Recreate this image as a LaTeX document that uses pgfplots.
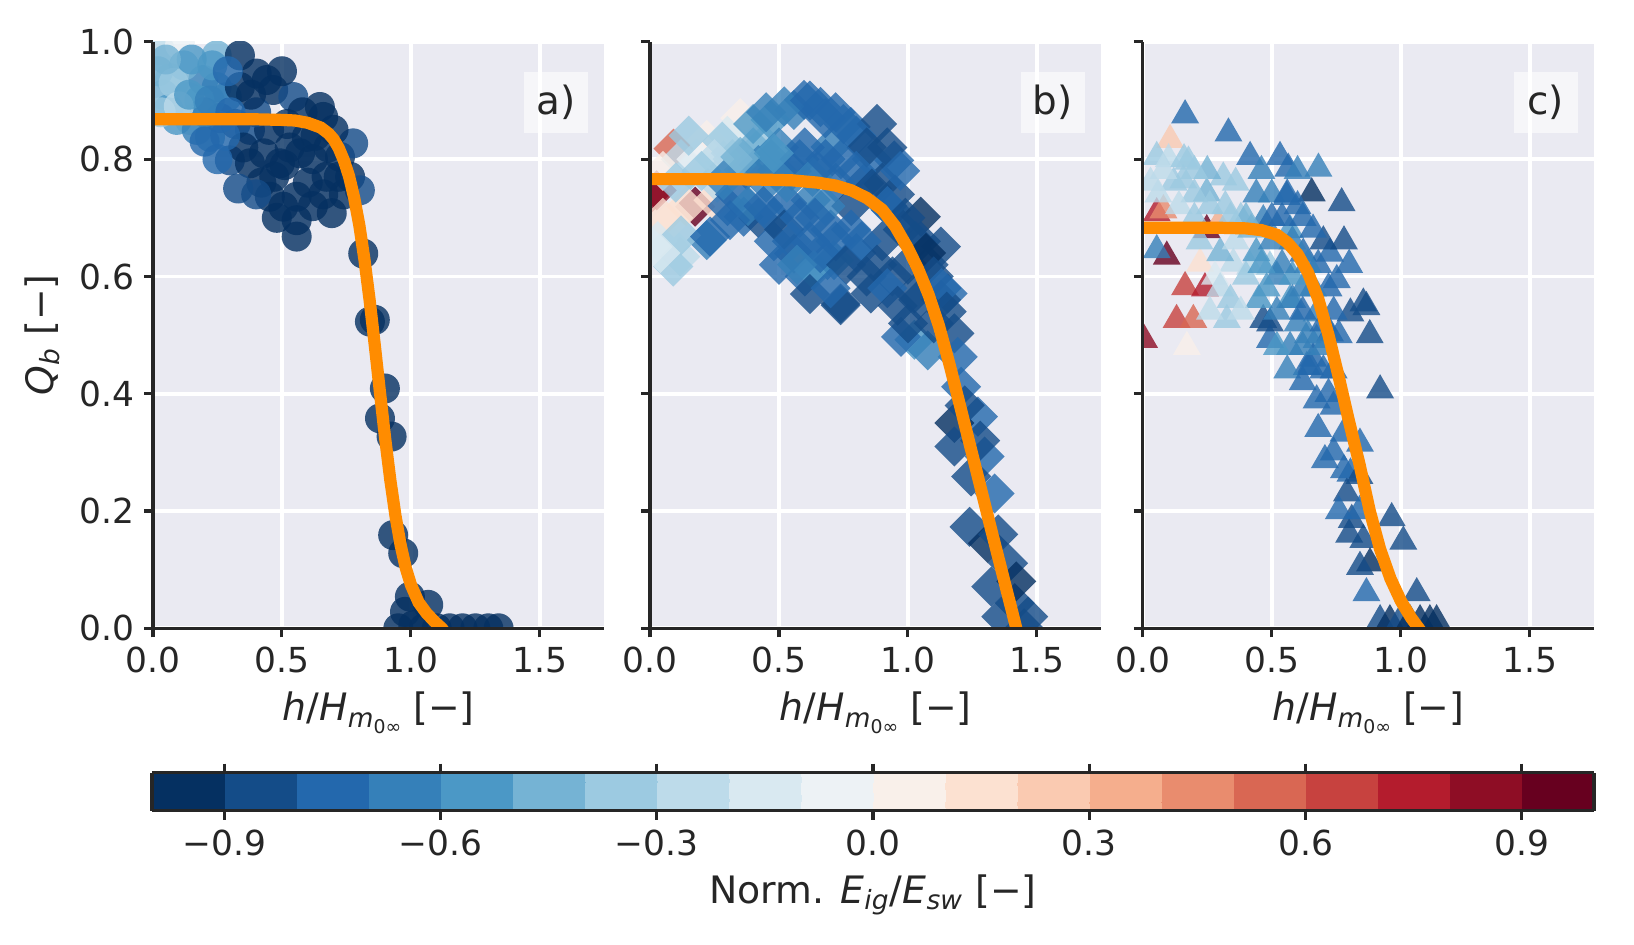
\documentclass[border=0pt]{standalone}
\usepackage{fontspec}
\setmainfont{DejaVu Sans}
\usepackage{pgfplots}
\usepackage{pgfplotstable}
\pgfplotsset{compat=1.18}

\definecolor{bgc}{HTML}{EAEAF2}
\definecolor{inkc}{HTML}{262626}
\definecolor{fitc}{HTML}{FF8C00}

% scatter data: x = h/Hm0, y = Qb, c = normalised Eig/Esw
\pgfplotstableread{
x y c
0.027 0.986 -0.25
0.105 0.995 -0.05
0.066 0.938 -0.35
0.020 0.950 -0.45
0.040 0.910 -0.50
0.137 0.906 -0.35
0.143 0.867 -0.35
0.092 0.867 -0.60
0.060 0.885 -0.55
0.195 0.935 -0.65
0.247 0.977 -0.45
0.247 0.923 -0.65
0.286 0.906 -0.70
0.221 0.838 -0.70
0.170 0.850 -0.65
0.298 0.798 -0.85
0.376 0.850 -0.85
0.337 0.977 -0.95
0.337 0.923 -0.95
0.402 0.946 -0.95
0.441 0.935 -0.95
0.466 0.918 -0.95
0.544 0.906 -0.85
0.596 0.838 -0.95
0.647 0.889 -0.95
0.660 0.872 -0.95
0.725 0.804 -0.95
0.776 0.827 -0.85
0.376 0.793 -0.95
0.492 0.793 -0.95
0.453 0.736 -0.95
0.505 0.719 -0.95
0.557 0.736 -0.95
0.557 0.696 -0.95
0.557 0.668 -0.95
0.673 0.770 -0.95
0.693 0.708 -0.95
0.764 0.770 -0.95
0.802 0.747 -0.85
0.815 0.639 -0.95
0.841 0.523 -0.95
0.860 0.526 -0.95
0.899 0.409 -0.95
0.880 0.358 -0.95
0.925 0.327 -0.95
0.931 0.159 -0.95
0.970 0.128 -0.95
0.996 0.054 -0.95
1.067 0.040 -0.95
0.977 0.028 -0.95
0.951 0.000 -0.95
1.009 0.005 -0.95
1.050 0.000 -0.95
1.100 0.000 -0.95
1.150 0.000 -0.95
1.200 0.000 -0.95
1.250 0.000 -0.95
1.300 0.000 -0.95
1.340 0.000 -0.95
0.620 0.800 -0.95
0.520 0.860 -0.95
0.450 0.850 -0.95
0.400 0.880 -0.85
0.700 0.850 -0.95
0.600 0.760 -0.95
0.420 0.760 -0.95
0.320 0.860 -0.85
0.260 0.870 -0.75
0.120 0.960 -0.50
0.230 0.960 -0.55
0.620 0.720 -0.95
0.510 0.790 -0.95
0.740 0.740 -0.95
0.350 0.820 -0.95
0.430 0.810 -0.95
0.470 0.770 -0.95
0.530 0.820 -0.95
0.580 0.880 -0.95
0.630 0.840 -0.95
0.680 0.820 -0.95
0.720 0.770 -0.95
0.660 0.740 -0.95
0.480 0.700 -0.95
0.400 0.740 -0.85
0.330 0.750 -0.85
0.280 0.840 -0.75
0.180 0.900 -0.60
0.200 0.880 -0.70
0.080 0.930 -0.40
0.030 0.880 -0.40
0.100 0.890 -0.30
0.150 0.970 -0.60
0.050 0.970 -0.50
0.290 0.950 -0.75
0.380 0.910 -0.95
0.500 0.950 -0.95
0.570 0.810 -0.95
0.200 0.830 -0.75
0.250 0.800 -0.75
0.140 0.910 -0.55
0.220 0.900 -0.65
0.300 0.880 -0.75
}\dataA

\pgfplotstableread{
x y c
0.000 0.740 0.85
0.026 0.747 0.85
0.091 0.818 0.55
0.175 0.719 0.95
0.220 0.833 0.05
0.350 0.870 0.05
0.246 0.730 0.15
0.156 0.781 -0.35
0.441 0.827 -0.35
0.493 0.781 -0.45
0.558 0.884 -0.65
0.661 0.889 -0.75
0.700 0.821 -0.65
0.778 0.855 -0.75
0.947 0.798 -0.75
0.830 0.759 -0.85
0.934 0.713 -0.75
1.050 0.702 -0.95
1.128 0.651 -0.85
0.363 0.702 -0.75
0.220 0.662 -0.65
0.117 0.634 -0.25
0.078 0.656 -0.15
0.558 0.639 -0.85
0.688 0.628 -0.65
0.739 0.554 -0.85
0.856 0.571 -0.85
1.025 0.571 -0.85
0.623 0.730 -0.65
0.532 0.725 -0.75
0.376 0.781 -0.75
0.285 0.798 -0.35
0.467 0.867 -0.55
0.597 0.901 -0.75
0.120 0.800 -0.25
0.050 0.780 0.05
0.300 0.840 -0.15
0.400 0.820 -0.45
0.260 0.760 -0.25
0.180 0.800 -0.05
0.090 0.700 0.05
0.140 0.720 0.15
0.300 0.720 -0.75
0.450 0.760 -0.65
0.500 0.820 -0.65
0.600 0.820 -0.75
0.650 0.780 -0.75
0.720 0.760 -0.75
0.780 0.720 -0.85
0.860 0.800 -0.75
0.900 0.760 -0.85
0.950 0.740 -0.85
0.980 0.680 -0.85
1.050 0.660 -0.85
1.080 0.620 -0.85
0.700 0.680 -0.75
0.620 0.660 -0.75
0.800 0.640 -0.75
0.900 0.660 -0.85
0.750 0.860 -0.75
0.680 0.720 -0.65
0.550 0.780 -0.75
0.420 0.700 -0.85
0.480 0.660 -0.75
0.600 0.600 -0.75
0.940 0.600 -0.85
1.000 0.620 -0.85
0.880 0.860 -0.85
0.739 0.551 -0.85
1.025 0.492 -0.55
0.973 0.497 -0.75
1.154 0.571 -0.75
1.180 0.503 -0.85
1.193 0.463 -0.75
1.206 0.412 -0.75
1.271 0.361 -0.75
1.180 0.350 -0.95
1.180 0.310 -0.85
1.297 0.293 -0.75
1.245 0.259 -0.85
1.336 0.230 -0.75
1.239 0.173 -0.85
1.310 0.145 -0.95
1.388 0.111 -0.85
1.323 0.071 -0.85
1.414 0.043 -0.85
1.466 0.020 -0.85
1.362 0.020 -0.85
1.128 0.560 -0.85
1.077 0.474 -0.65
0.635 0.611 -0.55
0.713 0.628 -0.65
1.100 0.520 -0.85
1.220 0.380 -0.85
1.280 0.320 -0.85
1.350 0.160 -0.85
1.420 0.080 -0.95
1.450 0.000 -0.85
0.400 0.860 -0.55
0.450 0.880 -0.65
0.520 0.890 -0.65
0.620 0.900 -0.75
0.680 0.870 -0.75
0.720 0.880 -0.75
0.800 0.840 -0.75
0.840 0.820 -0.85
0.920 0.820 -0.85
0.970 0.780 -0.75
0.360 0.800 -0.55
0.420 0.790 -0.65
0.470 0.800 -0.65
0.530 0.760 -0.65
0.580 0.800 -0.75
0.630 0.770 -0.65
0.680 0.800 -0.75
0.740 0.800 -0.75
0.800 0.780 -0.75
0.860 0.750 -0.85
0.920 0.720 -0.75
0.990 0.700 -0.85
1.030 0.660 -0.85
1.070 0.640 -0.95
1.100 0.600 -0.85
1.130 0.580 -0.75
1.150 0.540 -0.85
0.330 0.740 -0.75
0.380 0.720 -0.65
0.440 0.720 -0.75
0.480 0.700 -0.75
0.520 0.680 -0.85
0.550 0.660 -0.75
0.580 0.700 -0.75
0.640 0.700 -0.75
0.660 0.640 -0.75
0.720 0.660 -0.75
0.760 0.620 -0.85
0.780 0.680 -0.75
0.820 0.660 -0.75
0.840 0.600 -0.85
0.880 0.620 -0.85
0.920 0.580 -0.75
0.960 0.550 -0.85
1.000 0.520 -0.85
1.040 0.560 -0.85
0.500 0.620 -0.75
0.570 0.620 -0.65
0.620 0.570 -0.85
0.700 0.580 -0.75
0.280 0.830 -0.35
0.320 0.800 -0.35
0.250 0.800 -0.25
0.150 0.840 -0.35
0.200 0.780 -0.35
0.100 0.760 -0.35
0.050 0.700 0.15
0.030 0.660 -0.15
0.120 0.670 -0.35
0.090 0.617 -0.35
0.040 0.640 -0.15
0.350 0.804 -0.45
0.480 0.810 -0.55
0.285 0.764 -0.65
0.310 0.696 -0.75
0.233 0.668 -0.75
}\dataB

\pgfplotstableread{
x y c
0.164 0.875 -0.75
0.106 0.833 0.25
0.332 0.844 -0.75
0.054 0.804 -0.35
0.177 0.796 -0.35
0.416 0.804 -0.75
0.532 0.804 -0.75
0.564 0.784 -0.75
0.681 0.784 -0.65
0.655 0.742 -0.95
0.771 0.725 -0.85
0.558 0.736 -0.75
0.312 0.769 -0.35
0.157 0.764 -0.35
0.054 0.708 0.75
0.080 0.713 0.45
0.248 0.679 0.95
0.293 0.690 0.35
0.093 0.634 0.95
0.054 0.645 -0.65
0.164 0.582 0.65
0.241 0.580 0.75
0.222 0.622 0.15
0.131 0.526 0.65
0.196 0.526 0.55
0.005 0.492 0.85
0.171 0.480 0.05
0.326 0.526 -0.35
0.351 0.622 -0.25
0.416 0.617 -0.25
0.493 0.617 -0.35
0.248 0.742 -0.45
0.467 0.696 -0.65
0.571 0.679 -0.55
0.622 0.639 -0.75
0.726 0.639 -0.75
0.752 0.594 -0.75
0.855 0.554 -0.85
0.805 0.537 -0.85
0.467 0.526 -0.85
0.493 0.492 -0.75
0.571 0.480 -0.65
0.571 0.560 -0.55
0.674 0.537 -0.65
0.674 0.492 -0.65
0.726 0.503 -0.75
0.636 0.446 -0.75
0.867 0.548 -0.85
0.493 0.520 -0.85
0.648 0.446 -0.75
0.920 0.406 -0.85
0.674 0.389 -0.75
0.739 0.378 -0.75
0.778 0.332 -0.75
0.842 0.315 -0.75
0.706 0.287 -0.75
0.805 0.264 -0.75
0.791 0.230 -0.85
0.810 0.185 -0.85
0.965 0.188 -0.85
1.010 0.148 -0.85
0.855 0.151 -0.85
0.881 0.111 -0.95
0.842 0.105 -0.85
0.867 0.060 -0.75
1.062 0.060 -0.85
0.920 0.014 -0.85
0.958 0.014 -0.95
0.997 0.014 -0.85
1.036 0.014 -0.95
1.075 0.014 -0.95
1.113 0.014 -0.95
1.139 0.014 -0.95
0.200 0.740 -0.35
0.380 0.700 -0.35
0.440 0.740 -0.65
0.300 0.640 -0.45
0.360 0.660 -0.25
0.500 0.700 -0.75
0.600 0.720 -0.75
0.620 0.580 -0.65
0.700 0.660 -0.85
0.520 0.600 -0.65
0.450 0.560 -0.55
0.400 0.600 -0.35
0.280 0.600 -0.15
0.120 0.760 -0.35
0.060 0.740 -0.25
0.250 0.780 -0.45
0.140 0.720 -0.25
0.200 0.700 -0.35
0.260 0.720 -0.35
0.320 0.720 -0.35
0.360 0.760 -0.35
0.400 0.700 -0.45
0.220 0.660 -0.35
0.300 0.580 -0.25
0.340 0.560 -0.35
0.380 0.540 -0.25
0.260 0.540 -0.25
0.440 0.640 -0.55
0.100 0.800 -0.25
0.030 0.760 -0.25
0.200 0.780 -0.35
0.460 0.780 -0.65
0.500 0.740 -0.65
0.540 0.700 -0.75
0.580 0.660 -0.65
0.620 0.700 -0.75
0.660 0.680 -0.75
0.680 0.620 -0.75
0.720 0.580 -0.75
0.740 0.540 -0.75
0.760 0.500 -0.75
0.600 0.520 -0.65
0.640 0.500 -0.65
0.560 0.440 -0.65
0.620 0.420 -0.75
0.700 0.440 -0.75
0.720 0.400 -0.75
0.680 0.340 -0.75
0.740 0.300 -0.75
0.780 0.270 -0.75
0.760 0.200 -0.75
0.800 0.160 -0.85
0.840 0.200 -0.75
0.840 0.260 -0.85
0.520 0.480 -0.55
0.480 0.580 -0.55
0.580 0.600 -0.55
0.800 0.620 -0.75
0.780 0.660 -0.85
0.880 0.500 -0.85
0.500 0.660 -0.65
0.540 0.620 -0.65
0.580 0.560 -0.65
0.620 0.540 -0.75
0.660 0.580 -0.65
0.700 0.520 -0.75
0.640 0.620 -0.65
0.560 0.740 -0.75
0.600 0.780 -0.65
0.660 0.460 -0.75
0.700 0.480 -0.65
0.740 0.440 -0.75
0.620 0.480 -0.65
0.520 0.540 -0.65
0.460 0.620 -0.55
0.420 0.680 -0.45
0.340 0.700 -0.35
0.080 0.780 -0.25
0.160 0.800 -0.35
}\dataC

% fitted Qb curves
\pgfplotstableread{
x y
0.00 0.868
0.40 0.868
0.50 0.867
0.55 0.866
0.60 0.862
0.65 0.854
0.68 0.844
0.70 0.834
0.72 0.819
0.74 0.798
0.76 0.771
0.78 0.734
0.80 0.687
0.82 0.628
0.84 0.559
0.86 0.482
0.88 0.402
0.90 0.324
0.92 0.253
0.94 0.192
0.96 0.142
0.98 0.103
1.00 0.074
1.03 0.044
1.06 0.026
1.09 0.012
1.12 0.000
1.14 -0.012
}\fitA

\pgfplotstableread{
x y
0.00 0.766
0.30 0.766
0.45 0.765
0.55 0.764
0.65 0.760
0.72 0.755
0.78 0.747
0.84 0.734
0.90 0.714
0.95 0.686
1.00 0.648
1.04 0.612
1.08 0.569
1.12 0.516
1.16 0.452
1.20 0.383
1.24 0.313
1.28 0.243
1.32 0.173
1.36 0.104
1.40 0.035
1.43 -0.017
}\fitB

\pgfplotstableread{
x y
0.00 0.683
0.30 0.683
0.40 0.682
0.46 0.679
0.52 0.671
0.56 0.658
0.60 0.638
0.64 0.607
0.68 0.562
0.72 0.500
0.76 0.428
0.80 0.352
0.84 0.280
0.88 0.200
0.92 0.135
0.96 0.085
1.00 0.047
1.04 0.018
1.07 0.000
1.09 -0.012
}\fitC

\tikzset{
  tag/.style={fill=white, fill opacity=0.6, text opacity=1, text=inkc,
    minimum width=23pt, minimum height=22pt, inner sep=0pt,
    font=\fontsize{14}{16}\selectfont},
}

\pgfplotsset{
  colormap={rdbu20}{
    rgb255=(5,48,97) rgb255=(20,76,136) rgb255=(35,104,173) rgb255=(53,128,185)
    rgb255=(75,152,198) rgb255=(117,179,212) rgb255=(156,202,225) rgb255=(189,219,234)
    rgb255=(217,233,241) rgb255=(237,242,245) rgb255=(249,240,234) rgb255=(252,225,209)
    rgb255=(250,202,177) rgb255=(245,174,141) rgb255=(233,140,110) rgb255=(217,103,83)
    rgb255=(199,66,63) rgb255=(180,28,45) rgb255=(142,13,37) rgb255=(103,0,31)
  },
  panel/.style={
    scale only axis, width=162.5pt, height=211.1pt, anchor=south west,
    xmin=0, xmax=1.75, ymin=0, ymax=1,
    axis background/.style={fill=bgc},
    axis lines*=left,
    axis line style={draw=none},
    grid=major, major grid style={white, line width=1.4pt},
    xtick={0,0.5,1,1.5}, xticklabels={0.0,0.5,1.0,1.5},
    ytick={0,0.2,0.4,0.6,0.8,1.0},
    tick align=outside, major tick length=3.24pt,
    tick style={inkc, line width=1.1pt},
    ticklabel style={font=\fontsize{12.4}{14}\selectfont, text=inkc},
    label style={font=\fontsize{13.6}{16}\selectfont, text=inkc},
    xlabel={\textit{h}/\textit{H}\raisebox{-0.18em}{\fontsize{9.5}{10}\selectfont\textit{m}\raisebox{-0.22em}{\fontsize{6.8}{7}\selectfont 0∞}} [−]},
    colormap name=rdbu20, colormap access=piecewise constant,
    point meta min=-1, point meta max=1,
    clip marker paths=true,
  },
  dots/.style={scatter, only marks, point meta=explicit,
    scatter/use mapped color={draw=mapped color, fill=mapped color, draw opacity=0, fill opacity=0.8}},
  fitline/.style={fitc, line width=4.4pt, no marks},
}

\begin{document}
\begin{tikzpicture}
\useasboundingbox (0,0) rectangle (588.24pt,339.84pt);

% panel a: circles
\begin{axis}[panel, name=pa, at={(55.08pt,113.65pt)},
  yticklabels={0.0,0.2,0.4,0.6,0.8,1.0},
  ylabel={\textit{Q}\textsubscript{\textit{b}} [−]}]
\addplot[dots, mark=*, mark size=5.4pt] table[x=x, y=y, meta=c] {\dataA};
\addplot[fitline] table[x=x, y=y] {\fitA};
\node[tag] at (rel axis cs:0.8926,0.8965) {a)};
\end{axis}
\draw[inkc, line width=1.2pt] (pa.north west) -- (pa.south west) -- (pa.south east);

% panel b: diamonds
\begin{axis}[panel, name=pb, at={(234pt,113.65pt)}, yticklabels={}]
\addplot[dots, mark=square*, mark size=5.1pt, mark options={rotate=45}] table[x=x, y=y, meta=c] {\dataB};
\addplot[fitline] table[x=x, y=y] {\fitB};
\node[tag] at (rel axis cs:0.8926,0.8965) {b)};
\end{axis}
\draw[inkc, line width=1.2pt] (pb.north west) -- (pb.south west) -- (pb.south east);

% panel c: triangles
\begin{axis}[panel, name=pc, at={(411.4pt,113.65pt)}, yticklabels={}]
\addplot[dots, mark=triangle*, mark size=5.8pt] table[x=x, y=y, meta=c] {\dataC};
\addplot[fitline] table[x=x, y=y] {\fitC};
\node[tag] at (rel axis cs:0.8926,0.8965) {c)};
\end{axis}
\draw[inkc, line width=1.2pt] (pc.north west) -- (pc.south west) -- (pc.south east);

% shared colour bar
\pgfplotscolorbardrawstandalone[
  colormap name=rdbu20, colormap access=piecewise constant,
  point meta min=-1, point meta max=1,
  colorbar horizontal,
  colorbar style={
    at={(54.72pt,56.5pt)}, anchor=south west,
    scale only axis, width=519.1pt, height=13.7pt,
    xtick={-0.9,-0.6,-0.3,0,0.3,0.6,0.9},
    xticklabels={−0.9,−0.6,−0.3,0.0,0.3,0.6,0.9},
    tick align=outside, major tick length=3.24pt,
    tick style={inkc, line width=1.1pt},
    axis line style={inkc, line width=1.2pt},
    ticklabel style={font=\fontsize{12.4}{14}\selectfont, text=inkc},
    label style={font=\fontsize{13.6}{16}\selectfont, text=inkc},
    xlabel={Norm. \textit{E}\textsubscript{\textit{ig}}/\textit{E}\textsubscript{\textit{sw}} [−]},
  }]
\end{tikzpicture}
\end{document}
